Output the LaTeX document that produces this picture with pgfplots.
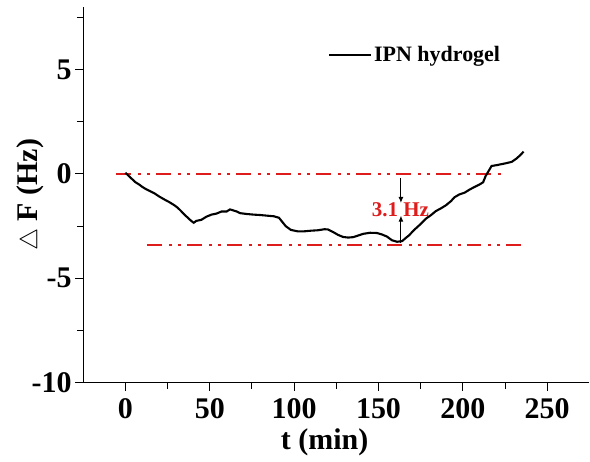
\documentclass[border=0pt]{standalone}
\usepackage{pgfplots}
\pgfplotsset{compat=1.18}
\usetikzlibrary{arrows.meta}
\usepackage{fontspec}
\setmainfont{Liberation Serif}
\definecolor{dashred}{RGB}{222,28,28}

\begin{document}
\begin{tikzpicture}
\begin{axis}[
    scale only axis,
    width=506.7pt, height=376pt,
    xmin=-25, xmax=275,
    ymin=-10, ymax=8,
    axis lines=left,
    axis line style={-, line width=1.2pt},
    xtick={0,50,...,250},
    ytick={-10,-5,0,5},
    minor xtick={25,75,125,175,225},
    minor ytick={-7.5,-2.5,2.5,7.5},
    tick align=outside,
    major tick length=8pt,
    minor tick length=6pt,
    every tick/.style={black, line width=1pt},
    /pgf/number format/assume math mode=true,
    ticklabel style={font=\bfseries\fontsize{30}{31}\selectfont},
    xticklabel style={yshift=-4pt},
    xlabel={t (min)},
    ylabel={$\triangle$ F (Hz)},
    every axis x label/.style={at={(axis description cs:0.477,-0.16)}, anchor=center,
        font=\bfseries\fontsize{30}{32}\selectfont},
    every axis y label/.style={at={(axis description cs:-0.105,0.5)}, rotate=90, anchor=center,
        font=\bfseries\fontsize{30}{32}\selectfont},
    legend style={draw=none, fill=none, at={(axis cs:120,5.72)}, anchor=west,
        font=\bfseries\fontsize{22}{24}\selectfont, inner sep=0pt,
        /tikz/every even column/.style={column sep=0pt}},
    legend cell align=left,
    legend image code/.code={\draw[#1] (0pt,0pt) -- (42pt,0pt);},
]
% reference lines
\addplot[dashred, line width=2.6pt, dash pattern=on 15pt off 7pt on 3pt off 6pt on 3pt off 6pt, forget plot]
  coordinates {(-5.6,0) (224,0)};
\addplot[dashred, line width=2.6pt, dash pattern=on 15pt off 7pt on 3pt off 6pt on 3pt off 6pt, forget plot]
  coordinates {(12.7,-3.40) (236,-3.40)};

% frequency shift
\addplot[black, line width=2.1pt] coordinates {
(0,0.06) (2,-0.1) (4,-0.25) (6,-0.4) (8,-0.5) (10,-0.62) (12,-0.72) (14,-0.8)
(17,-0.92) (20,-1.08) (23,-1.22) (26,-1.35) (29,-1.5) (31,-1.62) (33,-1.78)
(35,-1.95) (37,-2.1) (39,-2.25) (40.5,-2.34) (42,-2.25) (45,-2.2) (48,-2.05)
(51,-1.95) (54,-1.9) (57,-1.8) (60,-1.8) (62,-1.7) (64,-1.75) (66,-1.8)
(68,-1.88) (72,-1.92) (76,-1.95) (80,-1.97) (84,-2.0) (88,-2.03) (91,-2.1)
(93,-2.3) (95,-2.5) (98,-2.68) (102,-2.75) (106,-2.75) (110,-2.72) (114,-2.7)
(118,-2.65) (120,-2.66) (123,-2.78) (126,-2.92) (129,-3.02) (132,-3.05)
(135,-3.03) (138,-2.95) (141,-2.87) (145,-2.82) (149,-2.83) (152,-2.9)
(155,-3.0) (158,-3.18) (161,-3.25) (164,-3.22) (166,-3.08) (168,-2.95)
(170,-2.78) (172,-2.62) (175,-2.4) (178,-2.15) (181,-1.98) (184,-1.78)
(187,-1.65) (190,-1.5) (193,-1.3) (195,-1.12) (198,-0.98) (201,-0.9)
(204,-0.75) (207,-0.62) (210,-0.5) (212,-0.4) (213.5,-0.1) (215,0.1)
(217,0.38) (220,0.42) (223,0.47) (226,0.52) (229,0.58) (232,0.75) (234,0.9)
(236,1.07)
};
\addlegendentry{IPN hydrogel}

% annotation
\draw[-{Latex[length=6pt,width=5pt]}, line width=1pt] (axis cs:163.3,-0.19) -- (axis cs:163.3,-1.39);
\draw[-{Latex[length=6pt,width=5pt]}, line width=1pt] (axis cs:163.3,-3.32) -- (axis cs:163.3,-2.0);
\node[text=dashred, font=\bfseries\fontsize{21}{22}\selectfont, inner sep=0pt]
  at (axis cs:163,-1.72) {3.1 Hz};
\end{axis}
\path[use as bounding box] (-83.3pt,-79pt) rectangle (506.7pt,383pt);
\end{tikzpicture}
\end{document}
